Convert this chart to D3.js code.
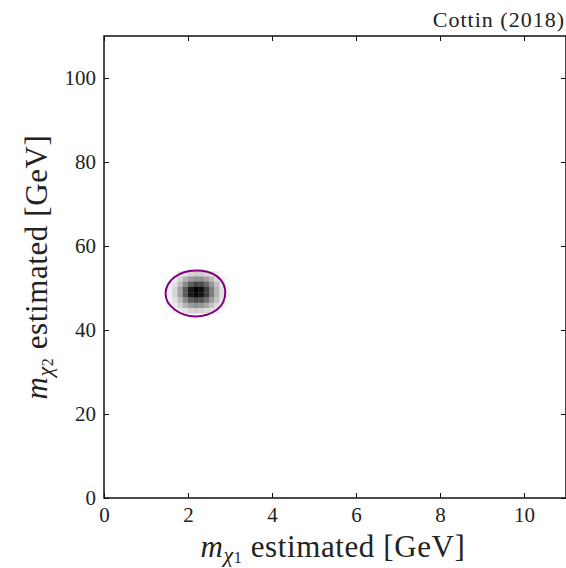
<!DOCTYPE html>
<html>
<head>
  <meta charset="utf-8">
  <title>Mass estimates</title>
  <script src="https://d3js.org/d3.v7.min.js"></script>
  <style>
    body { margin: 0; background: #fff; }
    text { font-family: "Liberation Serif", "Times New Roman", serif; fill: #222; }
    .frame { fill: none; stroke: #111; stroke-width: 1.5px; }
    .tick line { stroke: #111; stroke-width: 1px; }
  </style>
</head>
<body>
<div id="chart"></div>
<script>

  //axis ranges and ticks
  var xDomain = [0, 11], yDomain = [0, 110];
  var xTicks = [0, 2, 4, 6, 8, 10];
  var yTicks = [0, 20, 40, 60, 80, 100];

  //histogram bins (lower edges) and counts
  var binX = [1.5, 1.625, 1.75, 1.875, 2.0, 2.125, 2.25, 2.375, 2.5, 2.625, 2.75, 2.875];
  var binY = [52.75, 51.5, 50.25, 49.0, 47.75, 46.5, 45.25, 44.0];
  var binW = 0.125, binH = 1.25;
  var counts = [
    [0, 1, 3, 5, 7, 8, 8, 7, 5, 3, 1, 0],
    [1, 3, 7, 12, 16, 18, 18, 15, 11, 6, 3, 1],
    [2, 5, 11, 19, 26, 30, 29, 24, 17, 10, 4, 1],
    [3, 7, 15, 26, 37, 41, 39, 31, 21, 12, 5, 2],
    [3, 7, 15, 26, 37, 40, 38, 31, 21, 12, 5, 2],
    [2, 5, 11, 19, 26, 29, 28, 23, 16, 10, 4, 1],
    [1, 3, 7, 12, 16, 18, 17, 14, 10, 6, 3, 1],
    [0, 1, 3, 5, 7, 8, 7, 6, 5, 3, 1, 0]
  ];

  //contour line points (x, y)
  var contourX = [2.888, 2.840, 2.700, 2.460, 2.179, 1.906, 1.674, 1.519, 1.465, 1.519, 1.680, 1.910, 2.179, 2.452, 2.684, 2.839];
  var contourY = [49.10, 51.00, 52.70, 53.85, 54.17, 53.75, 52.56, 50.79, 48.69, 46.59, 44.90, 43.66, 43.21, 43.63, 44.82, 46.65];

  var width = 566, height = 568;
  var margin = {left: 104, top: 36, right: 0, bottom: 70};
  var w = width - margin.left - margin.right, h = height - margin.top - margin.bottom;

  var svg = d3.select("#chart").append("svg")
    .attr("width", width).attr("height", height);
  var g = svg.append("g").attr("transform", "translate(" + margin.left + "," + margin.top + ")");

  var x = d3.scaleLinear().domain(xDomain).range([0, w]);
  var y = d3.scaleLinear().domain(yDomain).range([h, 0]);
  var maxCount = d3.max(counts, function(r) { return d3.max(r); });
  var color = d3.scaleLinear().domain([0, maxCount]).range(["#ffffff", "#000000"]);

  //histogram cells
  var cells = [];
  counts.forEach(function(row, j) {
    row.forEach(function(c, i) {
      if (c > 0) cells.push({x: binX[i], y: binY[j], c: c});
    });
  });
  g.selectAll(".cell").data(cells).enter().append("rect")
    .attr("class", "cell")
    .attr("x", function(d) { return x(d.x); })
    .attr("y", function(d) { return y(d.y + binH); })
    .attr("width", x(binW) - x(0) + 0.3)
    .attr("height", y(0) - y(binH) + 0.3)
    .attr("fill", function(d) { return color(d.c); });

  //contour
  var pts = contourX.map(function(v, i) { return [v, contourY[i]]; });
  g.append("path")
    .attr("d", d3.line().x(function(d) { return x(d[0]); }).y(function(d) { return y(d[1]); })
      .curve(d3.curveCatmullRomClosed)(pts))
    .attr("fill", "none")
    .attr("stroke", "#800080")
    .attr("stroke-width", 2);

  //axes: ticks pointing inward on all four sides
  var tl = 5;
  g.append("g").attr("transform", "translate(0," + h + ")")
    .call(d3.axisBottom(x).tickValues(xTicks).tickSizeInner(-tl).tickSizeOuter(0).tickPadding(9))
    .call(function(a) { a.select(".domain").remove(); a.selectAll("text").attr("font-size", 21).attr("fill", "#222"); });
  g.append("g")
    .call(d3.axisTop(x).tickValues(xTicks).tickSizeInner(-tl).tickSizeOuter(0).tickFormat(""))
    .call(function(a) { a.select(".domain").remove(); });
  g.append("g")
    .call(d3.axisLeft(y).tickValues(yTicks).tickSizeInner(-tl).tickSizeOuter(0).tickPadding(8))
    .call(function(a) { a.select(".domain").remove(); a.selectAll("text").attr("font-size", 21).attr("fill", "#222"); });
  g.append("g").attr("transform", "translate(" + w + ",0)")
    .call(d3.axisRight(y).tickValues(yTicks).tickSizeInner(-tl).tickSizeOuter(0).tickFormat(""))
    .call(function(a) { a.select(".domain").remove(); });

  g.append("rect").attr("class", "frame").attr("x", 0).attr("y", 0).attr("width", w).attr("height", h);

  //axis labels
  var xl = svg.append("text")
    .attr("x", margin.left + w / 2 - 2).attr("y", 557)
    .attr("text-anchor", "middle").attr("font-size", 31).attr("letter-spacing", 0.6);
  xl.append("tspan").attr("font-style", "italic").text("m");
  xl.append("tspan").attr("font-style", "italic").attr("font-size", 22).attr("dy", 5).text("\u03c7");
  xl.append("tspan").attr("font-size", 16).attr("dy", 1).text("1");
  xl.append("tspan").attr("dy", -6).text(" estimated [GeV]");

  var yl = svg.append("text")
    .attr("transform", "translate(47," + (margin.top + h / 2) + ")rotate(-90)")
    .attr("text-anchor", "middle").attr("font-size", 31).attr("letter-spacing", 0.6);
  yl.append("tspan").attr("font-style", "italic").text("m");
  yl.append("tspan").attr("font-style", "italic").attr("font-size", 22).attr("dy", 5).text("\u03c7");
  yl.append("tspan").attr("font-size", 16).attr("dy", 1).text("2");
  yl.append("tspan").attr("dy", -6).text(" estimated [GeV]");

  svg.append("text")
    .attr("x", 565).attr("y", 27)
    .attr("text-anchor", "end").attr("font-size", 22).attr("letter-spacing", 1)
    .text("Cottin (2018)");

</script>
</body>
</html>
